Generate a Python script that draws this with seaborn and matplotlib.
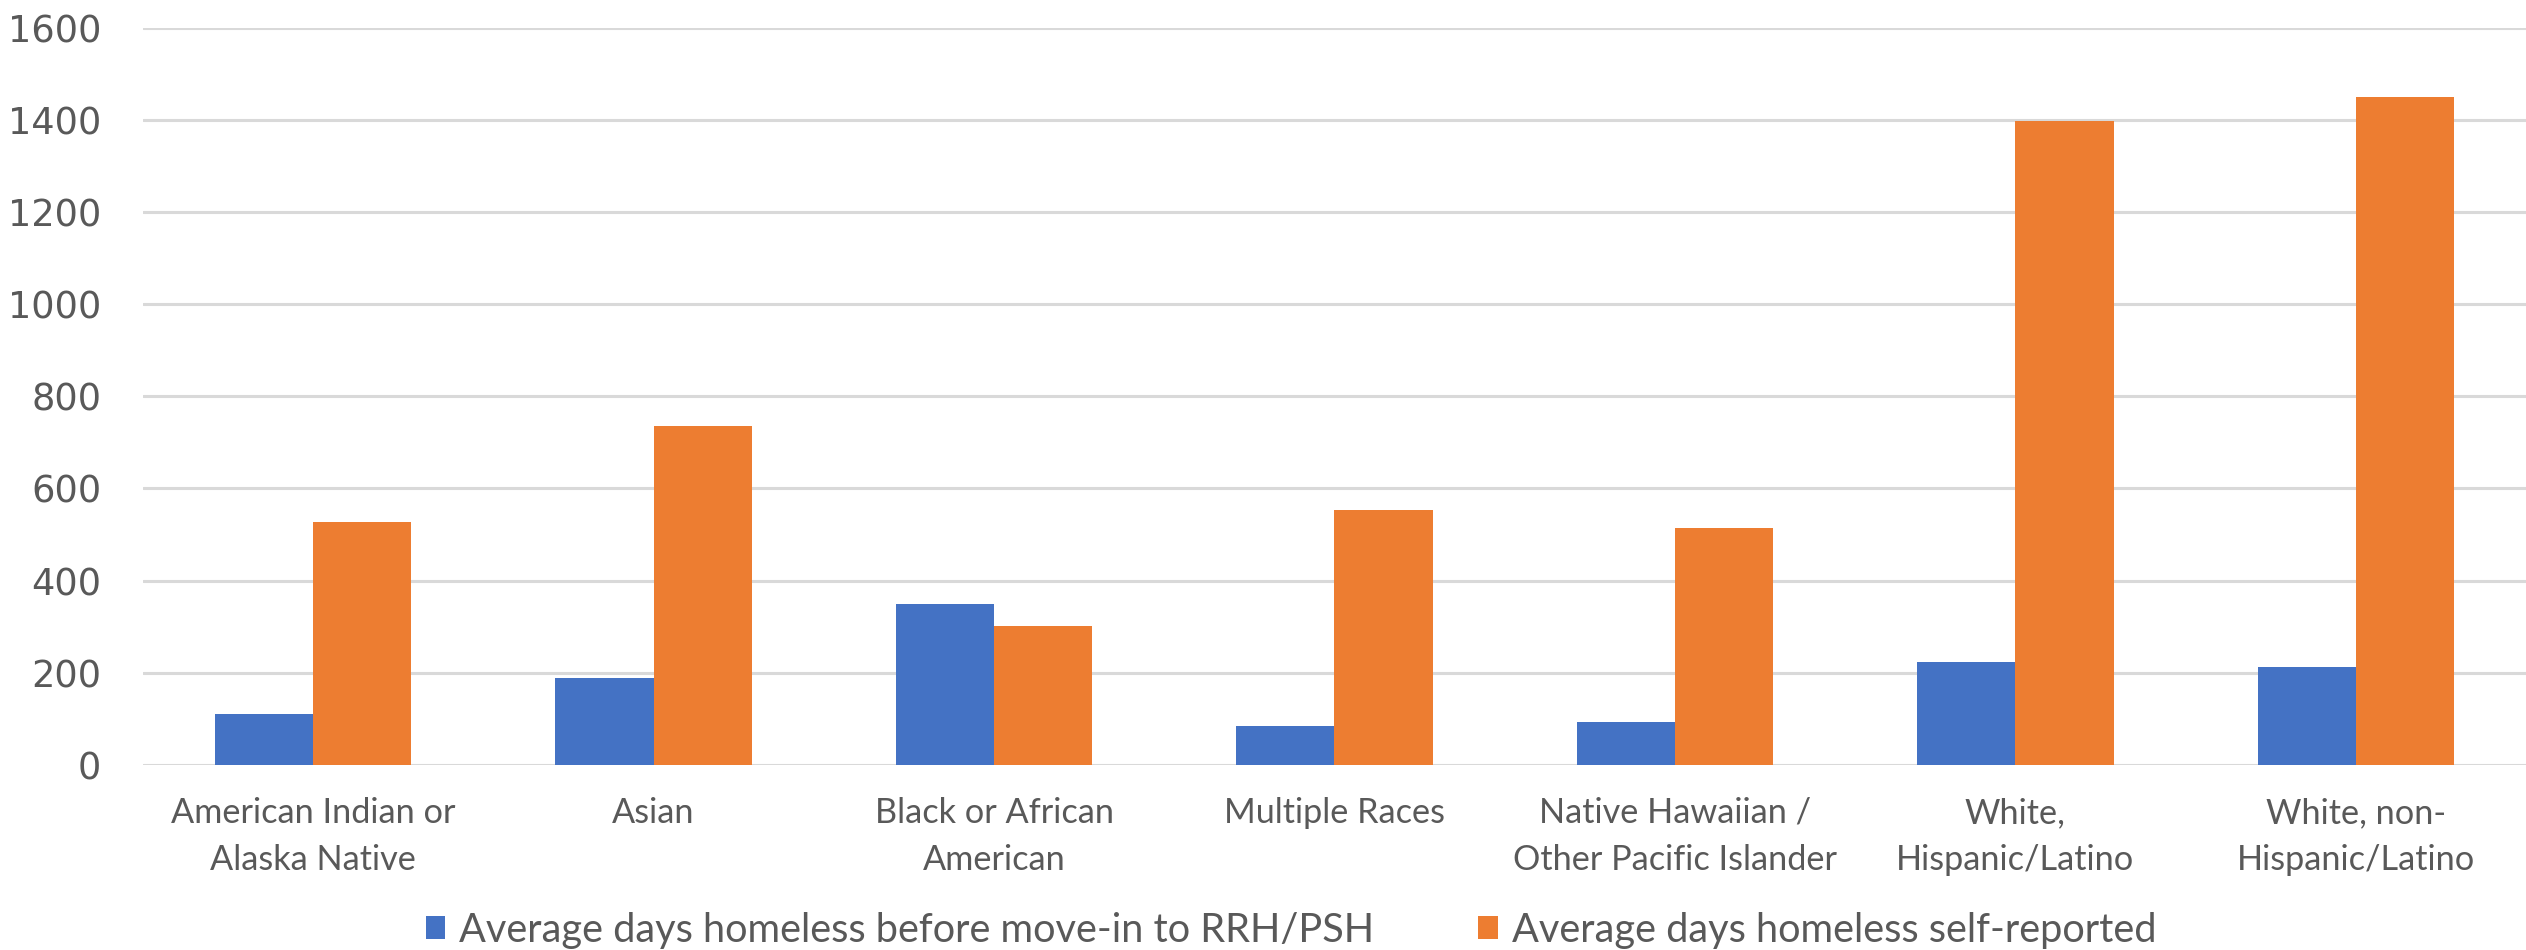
import matplotlib
matplotlib.use("Agg")
import matplotlib.pyplot as plt
import seaborn as sns
import pandas as pd

categories = ["American Indian or\nAlaska Native", "Asian", "Black or African\nAmerican",
              "Multiple Races", "Native Hawaiian /\nOther Pacific Islander",
              "White,\nHispanic/Latino", "White, non-\nHispanic/Latino"]
series_names = ["Average days homeless before move-in to RRH/PSH",
                "Average days homeless self-reported"]
before_movein = [110, 188, 349, 84, 93, 223, 213]
self_reported = [528, 736, 301, 554, 515, 1397, 1450]
yticks = [0, 200, 400, 600, 800, 1000, 1200, 1400, 1600]

df = pd.DataFrame({
    "category": categories * 2,
    "series": [series_names[0]] * len(categories) + [series_names[1]] * len(categories),
    "value": before_movein + self_reported,
})

sns.set_theme(style="white")
plt.rcParams["font.family"] = ["Lato", "DejaVu Sans"]

fig = plt.figure(figsize=(25.26, 9.5), dpi=100)
ax = fig.add_axes([0.0566, 0.1947, 0.9434, 0.7763])

sns.barplot(data=df, x="category", y="value", hue="series", order=categories,
            hue_order=series_names, palette=["#4472C4", "#ED7D31"],
            width=0.577, gap=0, saturation=1, ax=ax, linewidth=0, errorbar=None)

ax.set_ylim(0, 1600)
ax.set_xlim(-0.5, 6.5)
ax.set_yticks(yticks)
ax.set_yticklabels([str(v) for v in yticks], fontsize=26.5, color="#595959",
                   family="DejaVu Sans")
ax.tick_params(axis="y", length=0, pad=30)
ax.tick_params(axis="x", length=0, pad=23, labelsize=24.7, labelcolor="#595959")
for lab in ax.get_xticklabels():
    lab.set_linespacing(1.58)
ax.yaxis.grid(True, color="#D9D9D9", linewidth=2.2)
ax.set_axisbelow(True)
for s in ax.spines.values():
    s.set_visible(False)
ax.set_xlabel("")
ax.set_ylabel("")

leg = ax.legend(loc="center", bbox_to_anchor=(0.511, 0.021), bbox_transform=fig.transFigure,
                ncol=2, frameon=False, fontsize=28.6, handlelength=0.5, handleheight=0.5,
                handletextpad=0.35, columnspacing=2.6)
for t in leg.get_texts():
    t.set_color("#595959")

fig.savefig("out.png", dpi=100, facecolor="white")
